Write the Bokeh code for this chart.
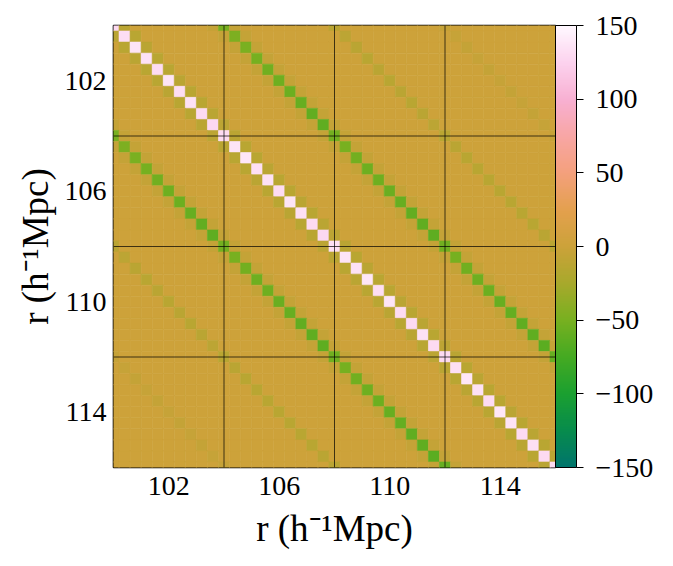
import numpy as np
from bokeh.plotting import figure
from bokeh.models import (LinearColorMapper, ColorBar, FixedTicker, Span, Range1d,
                          CustomJSTickFormatter, ColumnDataSource)
from bokeh.embed import file_html
from bokeh.resources import INLINE

# ---- data -------------------------------------------------------------
# bin centres (4 blocks of 10 bins, drawn over 100-116 h^-1 Mpc)
r_bins = [100.0, 100.4, 100.8, 101.2, 101.6, 102.0, 102.4, 102.8, 103.2, 103.6,
          104.0, 104.4, 104.8, 105.2, 105.6, 106.0, 106.4, 106.8, 107.2, 107.6,
          108.0, 108.4, 108.8, 109.2, 109.6, 110.0, 110.4, 110.8, 111.2, 111.6,
          112.0, 112.4, 112.8, 113.2, 113.6, 114.0, 114.4, 114.8, 115.2, 115.6,
          116.0]
# diagonal (i, i)
diag_vals = [130, 132, 137, 134, 131, 136, 132, 134, 130, 128,
             131, 136, 138, 133, 134, 131, 137, 133, 130, 128,
             133, 137, 134, 138, 132, 136, 131, 130, 134, 129,
             129, 133, 138, 134, 131, 138, 135, 130, 133, 129,
             131]
# first off-diagonal (i, i+1)
near_vals = [-12, -13, -12, -14, -13, -12, -13, -14, -12, -11,
             -12, -13, -13, -12, -14, -13, -12, -13, -12, -11,
             -12, -13, -12, -14, -13, -12, -13, -12, -13, -11,
             -12, -13, -12, -13, -14, -12, -13, -12, -13, -12]
# same bin, neighbouring block (i, i+10)
adj_block_vals = [-50, -47, -49, -51, -53, -55, -56, -58, -60, -62,
                  -52, -50, -52, -54, -55, -57, -58, -60, -61, -63,
                  -53, -51, -53, -55, -56, -58, -59, -61, -62, -64,
                  -58]
# same bin, two blocks apart (i, i+20)
far2_vals = [-12, -11, -12, -13, -12, -13, -12, -13, -12, -11,
             -13, -12, -13, -14, -13, -14, -13, -14, -13, -12,
             -12]
# same bin, three blocks apart (i, i+30)
far3_vals = [-4, -4, -5, -4, -5, -4, -5, -4, -5, -4, -4]
# neighbouring bin, neighbouring block (i, i+9) and (i, i+11)
adj_near_val = -5
background_val = 1

x_ticks = [102, 106, 110, 114]
block_edges = [104, 108, 112]
cbar_ticks = [-150, -100, -50, 0, 50, 100, 150]

# ---- build matrix -----------------------------------------------------
n = len(r_bins)
M = np.full((n, n), float(background_val))
for i in range(n):
    M[i, i] = diag_vals[i]
for i in range(n - 1):
    M[i, i + 1] = M[i + 1, i] = near_vals[i]
for i in range(n - 9):
    M[i, i + 9] = M[i + 9, i] = adj_near_val
for i in range(n - 11):
    M[i, i + 11] = M[i + 11, i] = adj_near_val
for i in range(n - 10):
    M[i, i + 10] = M[i + 10, i] = adj_block_vals[i]
for i in range(n - 20):
    M[i, i + 20] = M[i + 20, i] = far2_vals[i]
for i in range(n - 30):
    M[i, i + 30] = M[i + 30, i] = far3_vals[i]

xs, ys, vs = [], [], []
for i in range(n):
    for j in range(n):
        xs.append(r_bins[j]); ys.append(r_bins[i]); vs.append(M[i, j])
src = ColumnDataSource(dict(x=xs, y=ys, v=vs))

# ---- colour map -------------------------------------------------------
anchors = [(-150, "#00756c"), (-125, "#078c4c"), (-100, "#1ba030"), (-75, "#45aa22"),
           (-50, "#78b020"), (-25, "#a8a92c"), (0, "#cca23a"), (25, "#e4a04e"),
           (50, "#f4a07c"), (75, "#f8a6a4"), (100, "#f8b0d2"), (125, "#fcd2ee"),
           (150, "#fff8ff")]
def hex2rgb(h):
    return [int(h[k:k + 2], 16) for k in (1, 3, 5)]
av = np.array([a[0] for a in anchors], float)
ac = np.array([hex2rgb(a[1]) for a in anchors], float)
palette = []
for t in np.linspace(-150, 150, 256):
    c = [int(round(np.interp(t, av, ac[:, k]))) for k in range(3)]
    palette.append("#%02x%02x%02x" % tuple(c))
mapper = LinearColorMapper(palette=palette, low=-150, high=150)

# ---- figure -----------------------------------------------------------
FONT = "Liberation Serif"
p = figure(frame_width=442, frame_height=442,
           x_range=Range1d(100, 116), y_range=Range1d(116, 100),
           output_backend="svg", toolbar_location=None,
           min_border_left=113, min_border_right=118,
           min_border_top=25, min_border_bottom=99)
p.background_fill_color = "white"
p.border_fill_color = "white"
p.outline_line_color = "black"
p.outline_line_width = 1.6
p.grid.visible = False

p.rect(x="x", y="y", width=0.4, height=0.4, source=src,
       fill_color={"field": "v", "transform": mapper},
       line_color={"field": "v", "transform": mapper}, line_width=0.6)

for e in block_edges:
    p.add_layout(Span(location=e, dimension="height", line_color="black",
                      line_alpha=0.7, line_width=1))
    p.add_layout(Span(location=e, dimension="width", line_color="black",
                      line_alpha=0.7, line_width=1))

for ax in (p.xaxis[0], p.yaxis[0]):
    ax.ticker = FixedTicker(ticks=x_ticks)
    ax.major_tick_out = 0
    ax.major_tick_in = 0
    ax.minor_tick_out = 0
    ax.minor_tick_in = 0
    ax.axis_line_color = None
    ax.major_label_text_font = FONT
    ax.major_label_text_font_size = "28px"
    ax.major_label_text_color = "black"
    ax.axis_label = "r (h\u207b\u00b9Mpc)"
    ax.axis_label_text_font = FONT
    ax.axis_label_text_font_size = "37px"
    ax.axis_label_text_font_style = "normal"
    ax.axis_label_text_color = "black"
p.xaxis[0].major_label_standoff = 9
p.yaxis[0].major_label_standoff = 7
p.xaxis[0].axis_label_standoff = 10
p.yaxis[0].axis_label_standoff = 6

cb = ColorBar(color_mapper=mapper, width=21, padding=0, margin=0,
              ticker=FixedTicker(ticks=cbar_ticks),
              formatter=CustomJSTickFormatter(code="return tick < 0 ? '\\u2212' + Math.abs(tick) : String(tick)"),
              major_tick_in=0, major_tick_out=7, major_tick_line_color="black",
              minor_tick_line_color=None,
              bar_line_color="black", bar_line_width=1,
              label_standoff=12,
              major_label_text_font=FONT, major_label_text_font_size="28px",
              major_label_text_color="black",
              border_line_color=None, background_fill_color=None,
              location="top_left")
p.add_layout(cb, "right")

open("out.html", "w").write(file_html(p, INLINE))
